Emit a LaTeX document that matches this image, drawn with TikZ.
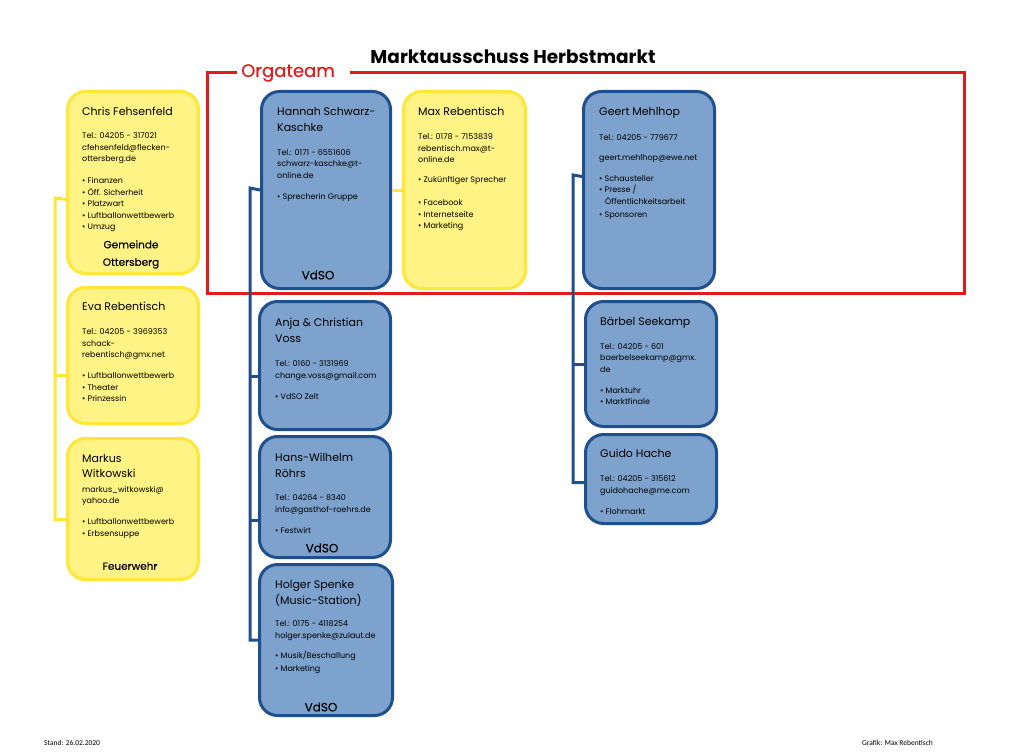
\documentclass[tikz,border=0pt]{standalone}
\usepackage{fontspec}
\setmainfont{Poppins}
\newfontfamily\footfont{Carlito}
\newfontfamily\tagfont{Poppins}[FakeBold=0.3]
\usepackage{xcolor}
\definecolor{yfill}{HTML}{FFF385}
\definecolor{yedge}{HTML}{FFE637}
\definecolor{bfill}{HTML}{7DA2CD}
\definecolor{bedge}{HTML}{1E4F8E}
\definecolor{orgared}{HTML}{E41B1B}
\newcommand\pname[1]{{\fontsize{11}{12}\selectfont #1}}

\begin{document}
\begin{tikzpicture}[x=1pt,y=-1pt,
  card/.style={draw,line width=3pt,rounded corners=18pt,anchor=north west,inner sep=0pt},
  ycard/.style={card,draw=yedge,fill=yfill},
  bcard/.style={card,draw=bedge,fill=bfill},
  info/.style={anchor=north west,align=left,inner sep=0pt,font=\fontsize{8}{11.5}\selectfont},
  tag/.style={font=\tagfont\fontsize{10.5}{17.5}\selectfont,align=center,inner sep=0pt},
  vdso/.style={font=\tagfont\fontsize{12}{14}\selectfont,inner sep=0pt},
  yline/.style={draw=yedge,line width=3pt},
  bline/.style={draw=bedge,line width=3pt},
  frame/.style={draw=orgared,line width=3pt}]
  \fill[white] (0,0) rectangle (1024,754);
  \useasboundingbox (0,0) rectangle (1024,754);

  \node[font=\bfseries\fontsize{18.5}{22}\selectfont] (title) at (513,57) {Marktausschuss Herbstmarkt};
  \node[font=\tagfont\fontsize{18}{20}\selectfont,text=orgared,inner sep=0pt] (orga) at (288,73) {Orgateam};
  \draw[frame] ([xshift=15pt]orga.east) -- (964,73) -- (964,293) -- (207,293) -- (207,73) -- ([xshift=-4pt]orga.west);

  % Gemeinde / Feuerwehr
  \node[ycard,minimum width=131,minimum height=182] (chris) at (66,90) {};
  \node[info] (chrisinfo) at ([xshift=16pt,yshift=-17pt]chris.north west)
    {\pname{Chris Fehsenfeld}\\[11.5pt]
     Tel.: 04205 - 317021\\ cfehsenfeld@flecken-\\ ottersberg.de\\[10.5pt]
     \textbullet\ Finanzen\\ \textbullet\ Öff. Sicherheit\\ \textbullet\ Platzwart\\
     \textbullet\ Luftballonwettbewerb\\ \textbullet\ Umzug};
  \node[tag] (christag) at (131,254.5) {Gemeinde\\Ottersberg};

  \node[ycard,minimum width=131,minimum height=136] (eva) at (66,286) {};
  \node[info] (evainfo) at ([xshift=16pt,yshift=-16pt]eva.north west)
    {\pname{Eva Rebentisch}\\[12.5pt]
     Tel.: 04205 - 3969353\\ schack-\\ rebentisch@gmx.net\\[9.5pt]
     \textbullet\ Luftballonwettbewerb\\ \textbullet\ Theater\\ \textbullet\ Prinzessin};

  \node[ycard,minimum width=131,minimum height=141] (markus) at (66,437) {};
  \node[info] (markusinfo) at ([xshift=16pt,yshift=-17pt]markus.north west)
    {\pname{Markus}\\[3.5pt] \pname{Witkowski}\\[3.5pt]
     markus\_witkowski@\\ yahoo.de\\[9.5pt]
     \textbullet\ Luftballonwettbewerb\\ \textbullet\ Erbsensuppe};
  \node[tag] (markustag) at (130,566) {Feuerwehr};

  \coordinate (ybus) at (55,198);
  \draw[yline] ([yshift=-17pt]chris.west) -- (ybus) |- ([yshift=-10.5pt]markus.west);
  \draw[yline] ([yshift=-20pt]eva.west) -- ++(-11,0);

  % VdSO
  \node[bcard,minimum width=129,minimum height=197] (hannah) at (260,90) {};
  \node[info] (hannahinfo) at ([xshift=17pt,yshift=-17pt]hannah.north west)
    {\pname{Hannah Schwarz-}\\[4.5pt] \pname{Kaschke}\\[12.5pt]
     Tel.: 0171 - 6551606\\ schwarz-kaschke@t-\\ online.de\\[9.5pt]
     \textbullet\ Sprecherin Gruppe};
  \node[vdso] (hannahtag) at (318,275) {VdSO};

  \node[ycard,minimum width=122,minimum height=197] (max) at (402,90) {};
  \node[info] (maxinfo) at ([xshift=16pt,yshift=-17pt]max.north west)
    {\pname{Max Rebentisch}\\[12.5pt]
     Tel.: 0178 - 7153839\\ rebentisch.max@t-\\ online.de\\[8.5pt]
     \textbullet\ Zukünftiger Sprecher\\[11.5pt]
     \textbullet\ Facebook\\ \textbullet\ Internetseite\\ \textbullet\ Marketing};

  \node[bcard,minimum width=131,minimum height=128] (anja) at (258,300) {};
  \node[info] (anjainfo) at ([xshift=17pt,yshift=-18pt]anja.north west)
    {\pname{Anja \& Christian}\\[4.5pt] \pname{Voss}\\[12.5pt]
     Tel.: 0160 - 3131969\\ change.voss@gmail.com\\[9.5pt]
     \textbullet\ VdSO Zelt};

  \node[bcard,minimum width=131,minimum height=121] (hans) at (258,435) {};
  \node[info] (hansinfo) at ([xshift=17pt,yshift=-18pt]hans.north west)
    {\pname{Hans-Wilhelm}\\[4.5pt] \pname{Röhrs}\\[11.5pt]
     Tel.: 04264 - 8340\\ info@gasthof-roehrs.de\\[9.5pt]
     \textbullet\ Festwirt};
  \node[vdso] (hanstag) at (322,548) {VdSO};

  \node[bcard,minimum width=133,minimum height=151] (holger) at (258,563) {};
  \node[info] (holgerinfo) at ([xshift=17pt,yshift=-17pt]holger.north west)
    {\pname{Holger Spenke}\\[2pt] \pname{(Music-Station)}\\[10.5pt]
     Tel.: 0175 - 4118254\\ holger.spenke@zulaut.de\\[8.5pt]
     \textbullet\ Musik/Beschallung\\[1.5pt] \textbullet\ Marketing};
  \node[vdso] (holgertag) at (321,707) {VdSO};

  \coordinate (mbus) at (250,188);
  \draw[bline] (hannah.west) -- (mbus) |- (holger.west);
  \draw[bline] ([yshift=-11pt]anja.west) -- ++(-8,0);
  \draw[bline] ([yshift=-23pt]hans.west) -- ++(-8,0);
  \draw[yline] (hannah.east) -- (max.west);

  % Schausteller / Markt
  \node[bcard,minimum width=131,minimum height=197] (geert) at (582,90) {};
  \node[info] (geertinfo) at ([xshift=17pt,yshift=-17pt]geert.north west)
    {\pname{Geert Mehlhop}\\[13.5pt]
     Tel.: 04205 - 779677\\[8.5pt] geert.mehlhop@ewe.net\\[9.5pt]
     \textbullet\ Schausteller\\ \textbullet\ Presse /\\ \hspace{6pt}Öffentlichkeitsarbeit\\[1.5pt]
     \textbullet\ Sponsoren};

  \node[bcard,minimum width=131,minimum height=125] (baerbel) at (584,300) {};
  \node[info] (baerbelinfo) at ([xshift=16pt,yshift=-17pt]baerbel.north west)
    {\pname{Bärbel Seekamp}\\[12.5pt]
     Tel.: 04205 - 601\\ baerbelseekamp@gmx.\\ de\\[9.5pt]
     \textbullet\ Marktuhr\\ \textbullet\ Marktfinale};

  \node[bcard,minimum width=131,minimum height=89] (guido) at (584,433) {};
  \node[info] (guidoinfo) at ([xshift=16pt,yshift=-16pt]guido.north west)
    {\pname{Guido Hache}\\[12.5pt]
     Tel.: 04205 - 315612\\ guidohache@me.com\\[9.5pt]
     \textbullet\ Flohmarkt};

  \coordinate (rbus) at (573,175);
  \draw[bline] ([yshift=13.5pt]geert.west) -- (rbus) |- ([yshift=-3.5pt]guido.west);
  \draw[bline] (baerbel.west) -- (baerbel.west -| rbus);

  % Fusszeile
  \node[font=\footfont\fontsize{7.5}{9}\selectfont,anchor=west,inner sep=0pt] (stand) at (44,743) {Stand: 26.02.2020};
  \node[font=\footfont\fontsize{7.5}{9}\selectfont,anchor=west,inner sep=0pt] (grafik) at (862,743) {Grafik: Max Rebentisch};
\end{tikzpicture}
\end{document}
